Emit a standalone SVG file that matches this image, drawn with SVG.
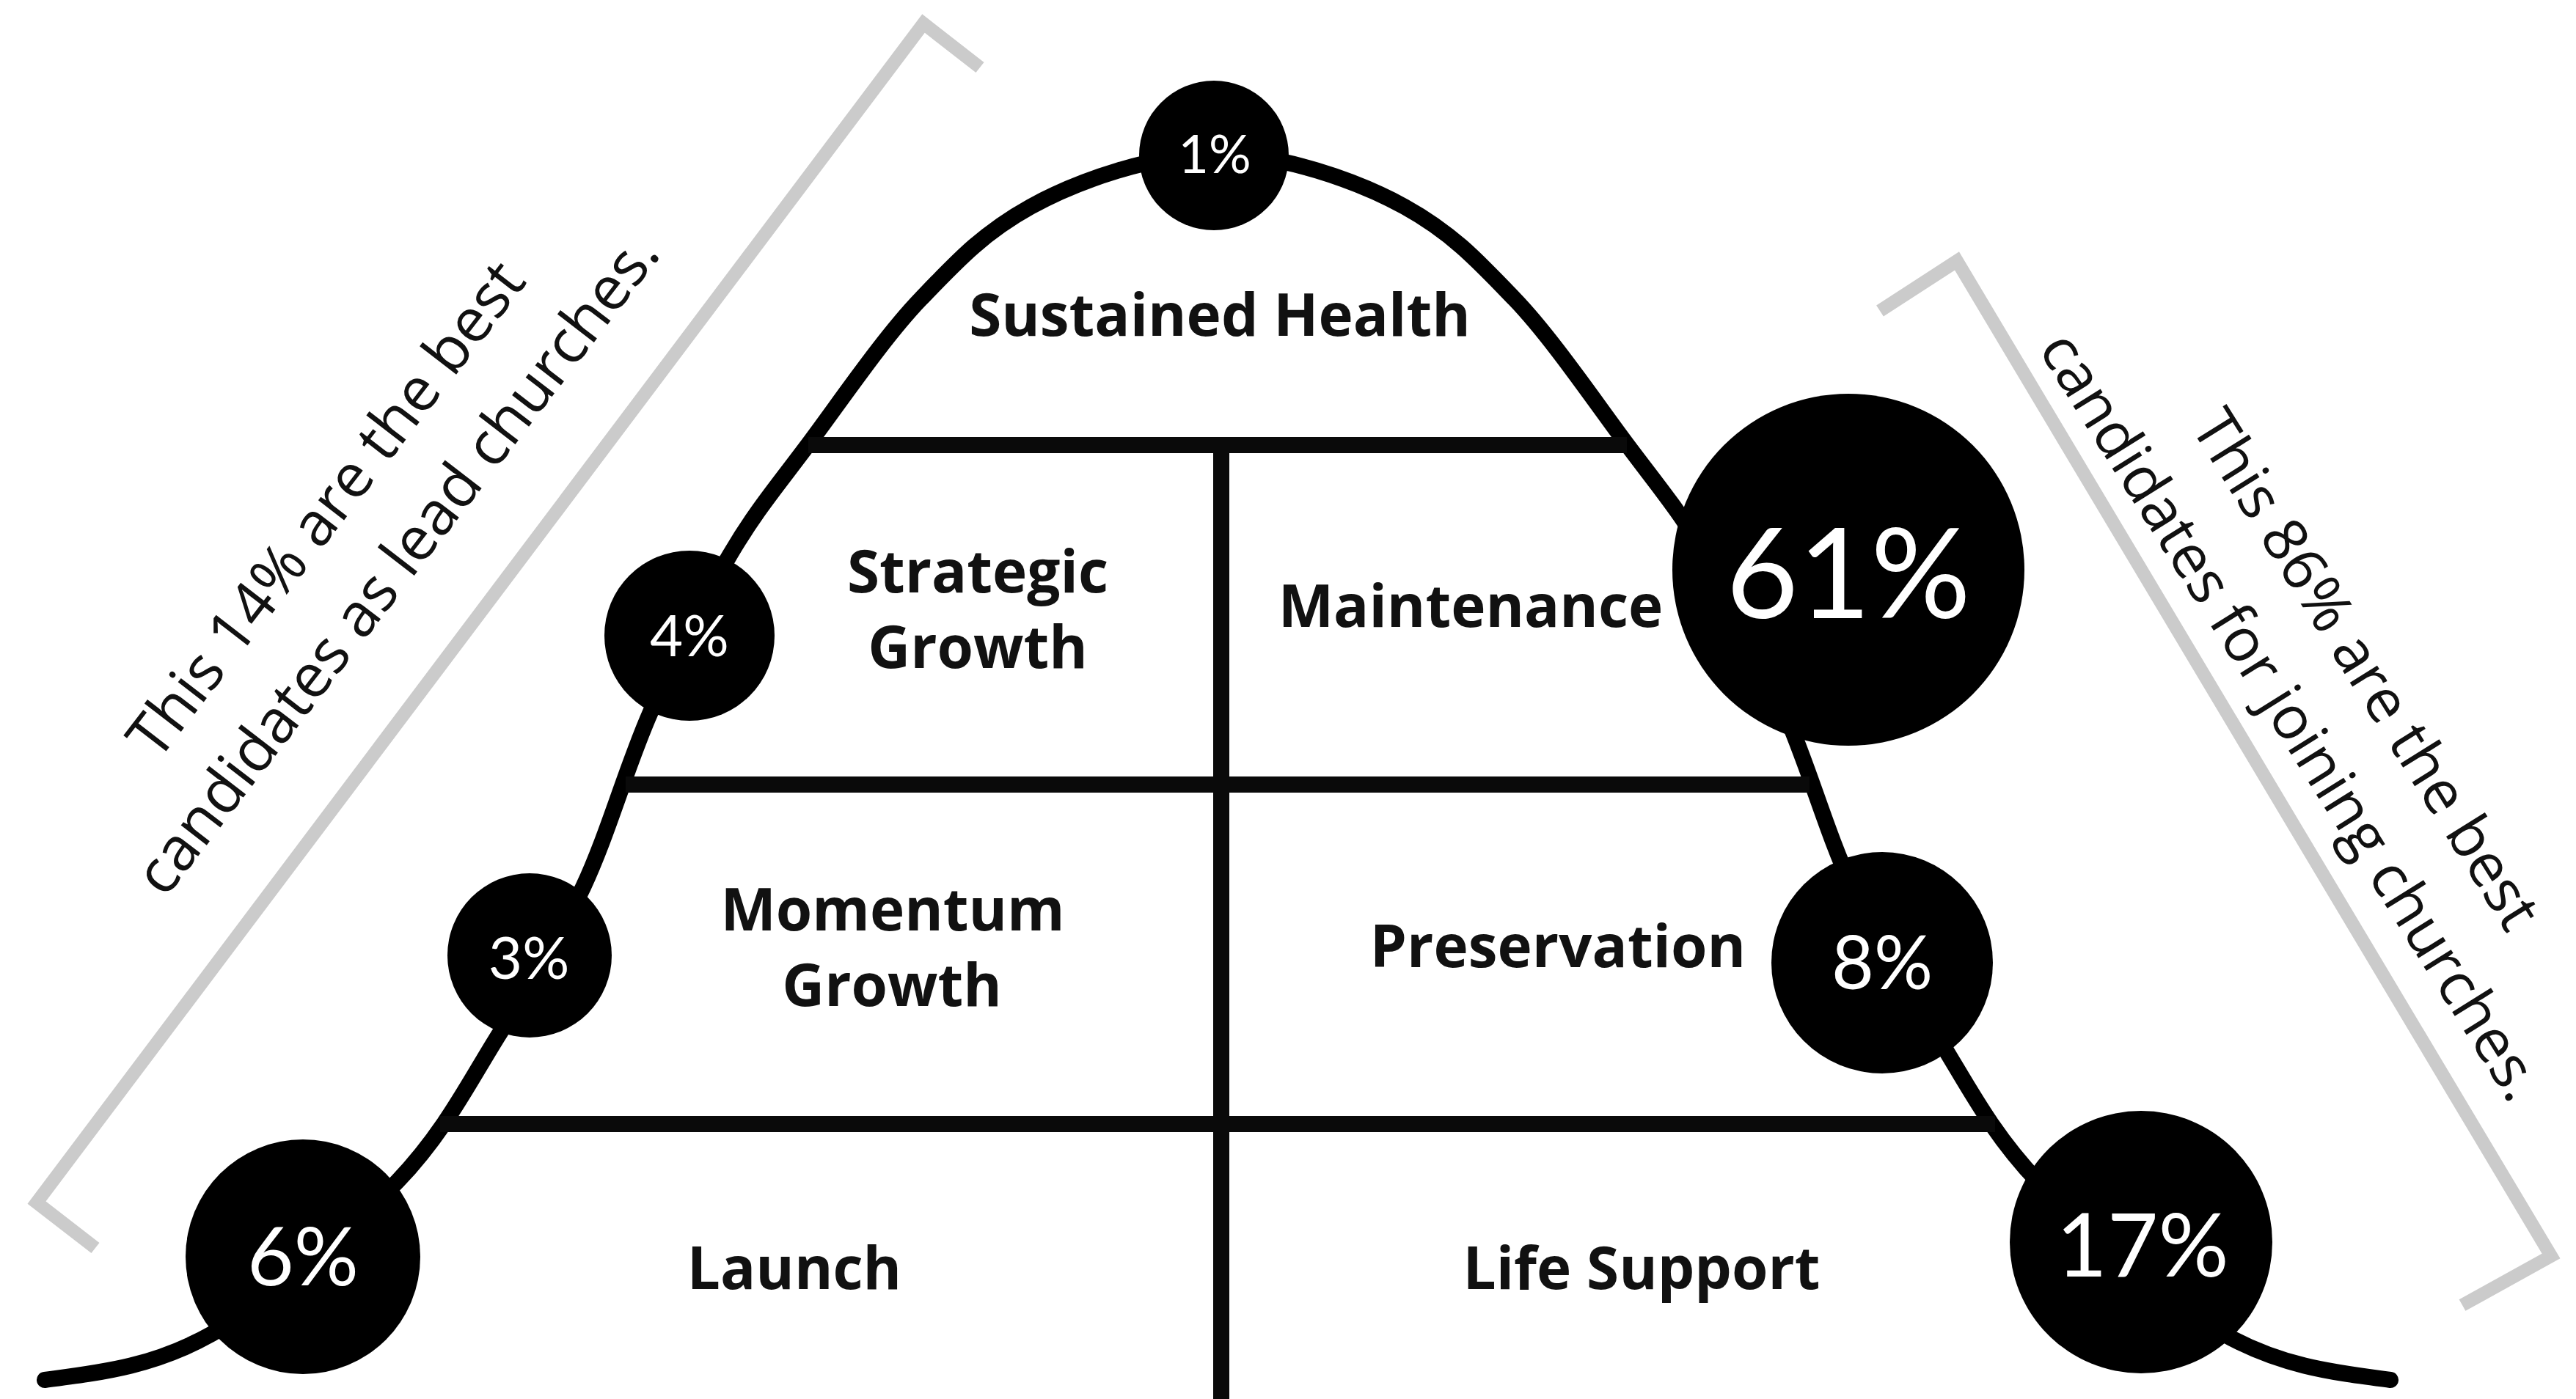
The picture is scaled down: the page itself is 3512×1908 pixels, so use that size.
<svg xmlns="http://www.w3.org/2000/svg" width="3512" height="1908" viewBox="0 0 3512 1908">
<style>
.bg{fill:#ffffff}
.curve{fill:none;stroke:#000;stroke-width:22;stroke-linecap:round}
.rule{fill:none;stroke:#0a0a0a;stroke-width:22}
.bracket{fill:none;stroke:#cbcbcb;stroke-width:18;stroke-linejoin:miter}
.dot{fill:#000}
.pct{fill:#fff;font-family:Lato,"Open Sans","Liberation Sans",sans-serif;font-weight:400;text-anchor:middle}
.lbl{fill:#111;font-family:"Open Sans","Noto Sans","Liberation Sans",sans-serif;font-weight:700;font-size:80px;text-anchor:middle}
.note{fill:#111;font-family:"Open Sans","Noto Sans","Liberation Sans",sans-serif;font-weight:400;font-size:83px;text-anchor:middle}
.note-r{font-size:82px}
</style>
<rect class="bg" x="0" y="0" width="3512" height="1908"/>
<g id="brackets">
<polyline class="bracket" points="130,1702 50,1640 1259,32 1336,92"/>
<polyline class="bracket" points="2563,424 2668,356 3478,1713 3357,1780"/>
</g>
<g id="connectors">
<path class="curve" d="M61,1882 C137,1872 208.8,1864.2 289,1819 C369.2,1773.8 476.5,1679.5 542,1611 C607.5,1542.5 639.8,1474.8 682,1408 C724.2,1341.2 760.8,1282.8 795,1210 C829.2,1137.2 853.7,1046.5 887,971 C920.3,895.5 959.2,817.8 995,757 C1030.8,696.2 1057.5,665.5 1102,606 C1146.5,546.5 1205,460 1255,408 C1305,356 1340,318 1405,282 C1470,246 1574,210 1660,210 C1746,210 1850,246 1915,282 C1980,318 2015,356 2065,408 C2115,460 2173.5,546.5 2218,606 C2262.5,665.5 2289.2,696.2 2325,757 C2360.8,817.8 2399.7,895.5 2433,971 C2466.3,1046.5 2490.8,1137.2 2525,1210 C2559.2,1282.8 2595.8,1341.2 2638,1408 C2680.2,1474.8 2712.5,1542.5 2778,1611 C2843.5,1679.5 2950.8,1773.8 3031,1819 C3111.2,1864.2 3183,1872 3259,1882"/>
<line class="rule" x1="1102" y1="607" x2="2218" y2="607"/>
<line class="rule" x1="853" y1="1070" x2="2467" y2="1070"/>
<line class="rule" x1="600" y1="1533" x2="2720" y2="1533"/>
<line class="rule" x1="1665" y1="607" x2="1665" y2="1908"/>
</g>
<g id="node-sustained-health"><text class="lbl" x="1663" y="458">Sustained Health</text></g>
<g id="node-strategic-growth"><text class="lbl" x="1333" y="808">Strategic</text><text class="lbl" x="1333" y="911">Growth</text></g>
<g id="node-maintenance"><text class="lbl" x="2005" y="855">Maintenance</text></g>
<g id="node-momentum-growth"><text class="lbl" x="1217" y="1269">Momentum</text><text class="lbl" x="1216" y="1372">Growth</text></g>
<g id="node-preservation"><text class="lbl" x="2124" y="1319">Preservation</text></g>
<g id="node-launch"><text class="lbl" x="1083" y="1758">Launch</text></g>
<g id="node-life-support"><text class="lbl" x="2238" y="1758">Life Support</text></g>
<g id="node-p1"><circle class="dot" cx="1655" cy="212" r="102"/><text class="pct" x="1656" y="236" font-size="72">1%</text></g>
<g id="node-p4"><circle class="dot" cx="940" cy="867" r="116"/><text class="pct" x="940" y="895" font-size="78">4%</text></g>
<g id="node-p3"><circle class="dot" cx="722" cy="1303" r="112"/><text class="pct" x="721" y="1335" font-size="80">3%</text></g>
<g id="node-p6"><circle class="dot" cx="413" cy="1714" r="160"/><text class="pct" x="413" y="1753" font-size="110">6%</text></g>
<g id="node-p61"><circle class="dot" cx="2520" cy="777" r="240"/><text class="pct" x="2520" y="843" font-size="170">61%</text></g>
<g id="node-p8"><circle class="dot" cx="2566" cy="1313" r="151"/><text class="pct" x="2566" y="1349" font-size="100">8%</text></g>
<g id="node-p17"><circle class="dot" cx="2919" cy="1694" r="179"/><text class="pct" x="2921" y="1741" font-size="120">17%</text></g>
<g id="note-left" transform="translate(467,712) rotate(-52.4)">
<text class="note" x="0" y="0">This 14% are the best</text>
<text class="note" x="0" y="122">candidates as lead churches.</text>
</g>
<g id="note-right" transform="translate(3202,928) rotate(58)">
<text class="note note-r" x="0" y="0">This 86% are the best</text>
<text class="note note-r" x="0" y="120">candidates for joining churches.</text>
</g>
</svg>
